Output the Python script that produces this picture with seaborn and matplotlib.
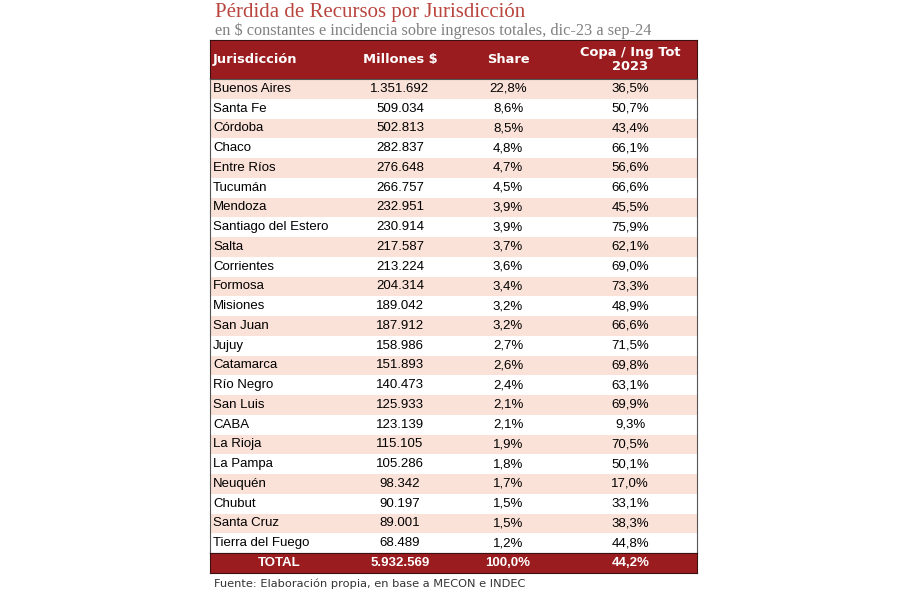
import numpy as np
import matplotlib
matplotlib.use("Agg")
import matplotlib.pyplot as plt
from matplotlib.colors import ListedColormap
import seaborn as sns

provincias = ["Buenos Aires", "Santa Fe", "Córdoba", "Chaco", "Entre Ríos", "Tucumán",
              "Mendoza", "Santiago del Estero", "Salta", "Corrientes", "Formosa", "Misiones",
              "San Juan", "Jujuy", "Catamarca", "Río Negro", "San Luis", "CABA", "La Rioja",
              "La Pampa", "Neuquén", "Chubut", "Santa Cruz", "Tierra del Fuego"]
millones = [1351692, 509034, 502813, 282837, 276648, 266757, 232951, 230914, 217587,
            213224, 204314, 189042, 187912, 158986, 151893, 140473, 125933, 123139,
            115105, 105286, 98342, 90197, 89001, 68489]
share = [22.8, 8.6, 8.5, 4.8, 4.7, 4.5, 3.9, 3.9, 3.7, 3.6, 3.4, 3.2, 3.2, 2.7, 2.6,
         2.4, 2.1, 2.1, 1.9, 1.8, 1.7, 1.5, 1.5, 1.2]
copa = [36.5, 50.7, 43.4, 66.1, 56.6, 66.6, 45.5, 75.9, 62.1, 69.0, 73.3, 48.9, 66.6,
        71.5, 69.8, 63.1, 69.9, 9.3, 70.5, 50.1, 17.0, 33.1, 38.3, 44.8]
total_millones = 5932569
total_share = 100.0
total_copa = 44.2
headers = ["Jurisdicción", "Millones $", "Share", "Copa / Ing Tot\n2023"]

RED = "#9b1c1f"
PINK = "#fbe2d8"
TITLE = "#b9453f"


def fmt_int(v):
    return f"{v:,}".replace(",", ".")


def fmt_pct(v):
    return f"{v:.1f}%".replace(".", ",")


col_x = [0.006, 0.39, 0.612, 0.863]
txt_font = ["Liberation Sans", "DejaVu Sans"]
hdr_font = ["DejaVu Sans"]
body_size = 9.5

fig = plt.figure(figsize=(9, 6), dpi=100)
W, H = 900, 600
x0, x1 = 210, 697
hdr_top, hdr_bot = 40, 79
body_bot = 553
tot_bot = 573


def frac_axes(top, bot):
    return fig.add_axes([x0 / W, 1 - bot / H, (x1 - x0) / W, (bot - top) / H])


# header
ax_h = frac_axes(hdr_top, hdr_bot)
ax_h.set_facecolor(RED)
ax_h.set_xticks([]); ax_h.set_yticks([])
for s in ax_h.spines.values():
    s.set_color("#3a1010")
for i, h in enumerate(headers):
    ax_h.text(col_x[i], 0.5, h, color="white", fontweight="bold",
              fontsize=9.4, family=hdr_font, ha="left" if i == 0 else "center",
              va="center", transform=ax_h.transAxes, linespacing=1.1)

# body stripes as a heatmap
ax_b = frac_axes(hdr_bot, body_bot)
stripes = np.array([[i % 2] for i in range(len(provincias))])
sns.heatmap(stripes, cmap=ListedColormap([PINK, "white"]), cbar=False,
            xticklabels=False, yticklabels=False, ax=ax_b)
ax_b.set_xlim(0, 1)
for s in ax_b.spines.values():
    s.set_visible(True)
    s.set_color("#555555")
    s.set_linewidth(0.8)
for i, name in enumerate(provincias):
    y = i + 0.5
    ax_b.text(col_x[0], y, name, ha="left", va="center", fontsize=body_size, family=txt_font)
    ax_b.text(col_x[1], y, fmt_int(millones[i]), ha="center", va="center", fontsize=body_size, family=txt_font)
    ax_b.text(col_x[2], y, fmt_pct(share[i]), ha="center", va="center", fontsize=body_size, family=txt_font)
    ax_b.text(col_x[3], y, fmt_pct(copa[i]), ha="center", va="center", fontsize=body_size, family=txt_font)

# total row
ax_t = frac_axes(body_bot, tot_bot)
ax_t.set_facecolor(RED)
ax_t.set_xticks([]); ax_t.set_yticks([])
for s in ax_t.spines.values():
    s.set_color("#3a1010")
tot_vals = ["TOTAL", fmt_int(total_millones), fmt_pct(total_share), fmt_pct(total_copa)]
tot_x = [0.143, col_x[1], col_x[2], col_x[3]]
for xx, v in zip(tot_x, tot_vals):
    ax_t.text(xx, 0.5, v, color="white", fontweight="bold", fontsize=body_size, family=txt_font,
              ha="center", va="center", transform=ax_t.transAxes)

# titles and source
fig.text(215 / W, 1 - 12 / H, "Pérdida de Recursos por Jurisdicción", color=TITLE,
         fontsize=15, family=["Liberation Serif", "DejaVu Serif"], ha="left", va="center")
fig.text(215 / W, 1 - 31 / H, "en $ constantes e incidencia sobre ingresos totales, dic-23 a sep-24",
         color="#808080", fontsize=11.7, family=["Liberation Serif", "DejaVu Serif"], ha="left", va="center")
fig.text(214 / W, 1 - 584 / H, "Fuente: Elaboración propia, en base a MECON e INDEC",
         color="#333333", fontsize=8.2, family=["DejaVu Sans"], ha="left", va="center")

fig.savefig("out.png", dpi=100, facecolor="white")
